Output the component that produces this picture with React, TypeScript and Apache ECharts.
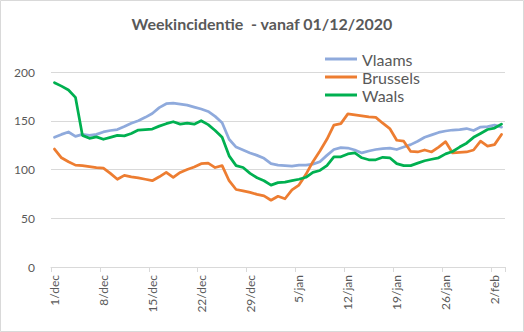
import React, { useEffect, useRef } from "react";
import * as echarts from "echarts";

const dates = [
  "1/dec","2/dec","3/dec","4/dec","5/dec","6/dec","7/dec","8/dec","9/dec","10/dec",
  "11/dec","12/dec","13/dec","14/dec","15/dec","16/dec","17/dec","18/dec","19/dec","20/dec",
  "21/dec","22/dec","23/dec","24/dec","25/dec","26/dec","27/dec","28/dec","29/dec","30/dec",
  "31/dec","1/jan","2/jan","3/jan","4/jan","5/jan","6/jan","7/jan","8/jan","9/jan",
  "10/jan","11/jan","12/jan","13/jan","14/jan","15/jan","16/jan","17/jan","18/jan","19/jan",
  "20/jan","21/jan","22/jan","23/jan","24/jan","25/jan","26/jan","27/jan","28/jan","29/jan",
  "30/jan","31/jan","1/feb","2/feb","3/feb",
];

const vlaams = [
  133,136,138.5,134,136,135,136,138.5,140,141,144,147.5,150,153.5,157.5,163.5,167.5,168,167,166,
  164,162,159.5,154.5,148,131,123,120,117,114.5,111.5,106,104.5,104,103.5,104.5,104.5,105.5,108,114.5,
  120.5,122.5,122,120,117,119,120.5,121.5,122,120.5,123,125.5,129,133,135.5,138,139.5,140.5,141,142,
  140,143.5,144,145.5,143.5,
];

const brussels = [
  121,112,108,104.5,104,103,102,101.5,96,90,94,92.5,91.5,90,88.5,92.5,97,92,97,100,
  102.5,106,106.5,102,104,88.5,79.5,78,76.5,74.5,73,68.5,72.5,70,79,84,95,108,119,131,
  145.5,147,157,156,155,154,153.5,147.5,142,130,129,118.5,118,120,118,123,128.5,117,117.5,118,
  120,129,124,125.5,136,
];

const waals = [
  189,185.5,181.5,174,135,132,133.5,131,133,135,134.5,137,140.5,141,141.5,144.5,147,149,146.5,147.5,
  146.5,150,146,140,133,114,104,102,96,91.5,88.5,84,86.5,87,88.5,90,92,97,99,104,
  113,113,116,117,112,110,110,112.5,112,106,104,104,106.5,109,110.5,112,116,118.5,123,127,
  133,137,141,142.5,146.5,
];

const titleText = "Weekincidentie  - vanaf 01/12/2020";
const FONT = "Lato, 'Open Sans', sans-serif";

export default function App() {
  const ref = useRef<HTMLDivElement>(null);
  useEffect(() => {
    if (!ref.current) return;
    const chart = echarts.init(ref.current, null, { renderer: "svg" });
    const mk = (name: string, data: number[], color: string) => ({
      name,
      type: "line",
      data,
      symbol: "none",
      smooth: false,
      lineStyle: { color, width: 2.75, join: "round", cap: "round" },
      itemStyle: { color },
    });
    chart.setOption({
      animation: false,
      backgroundColor: "#ffffff",
      textStyle: { fontFamily: FONT },
      graphic: [
        {
          type: "rect",
          shape: { x: 0.5, y: 0.5, width: 523, height: 331 },
          style: { fill: "none", stroke: "#D9D9D9", lineWidth: 1 },
          silent: true,
        },
      ],
      title: {
        text: titleText,
        left: "center",
        top: 15,
        padding: 0,
        textStyle: { fontFamily: FONT, fontSize: 16, fontWeight: "bold", color: "#595959" },
      },
      legend: {
        orient: "vertical",
        left: 325,
        top: 51,
        padding: 0,
        itemWidth: 32,
        itemHeight: 3,
        itemGap: 2,
        icon: "rect",
        textStyle: { fontFamily: FONT, fontSize: 16, color: "#595959", padding: [0, 0, 0, 0] },
        data: ["Vlaams", "Brussels", "Waals"],
      },
      grid: { left: 51, right: 19, top: 72, bottom: 65, containLabel: false },
      xAxis: {
        type: "category",
        data: dates,
        boundaryGap: true,
        axisLine: { lineStyle: { color: "#D9D9D9", width: 1 } },
        axisTick: { show: true, interval: 6, length: 5, lineStyle: { color: "#D9D9D9" } },
        axisLabel: {
          interval: 6,
          rotate: 90,
          color: "#595959",
          fontFamily: FONT,
          fontSize: 12,
          margin: 8,
        },
        splitLine: { show: false },
      },
      yAxis: {
        type: "value",
        min: 0,
        max: 200,
        interval: 50,
        axisLine: { show: false },
        axisTick: { show: false },
        axisLabel: { color: "#595959", fontFamily: FONT, fontSize: 12, margin: 16 },
        splitLine: { lineStyle: { color: "#D9D9D9", width: 1 } },
      },
      series: [
        mk("Vlaams", vlaams, "#8FAADC"),
        mk("Brussels", brussels, "#ED7D31"),
        mk("Waals", waals, "#00B050"),
      ],
    });
    return () => chart.dispose();
  }, []);
  return (
    <div
      ref={ref}
      style={{ position: "fixed", left: 0, top: 0, width: 524, height: 332, background: "#fff" }}
    />
  );
}
